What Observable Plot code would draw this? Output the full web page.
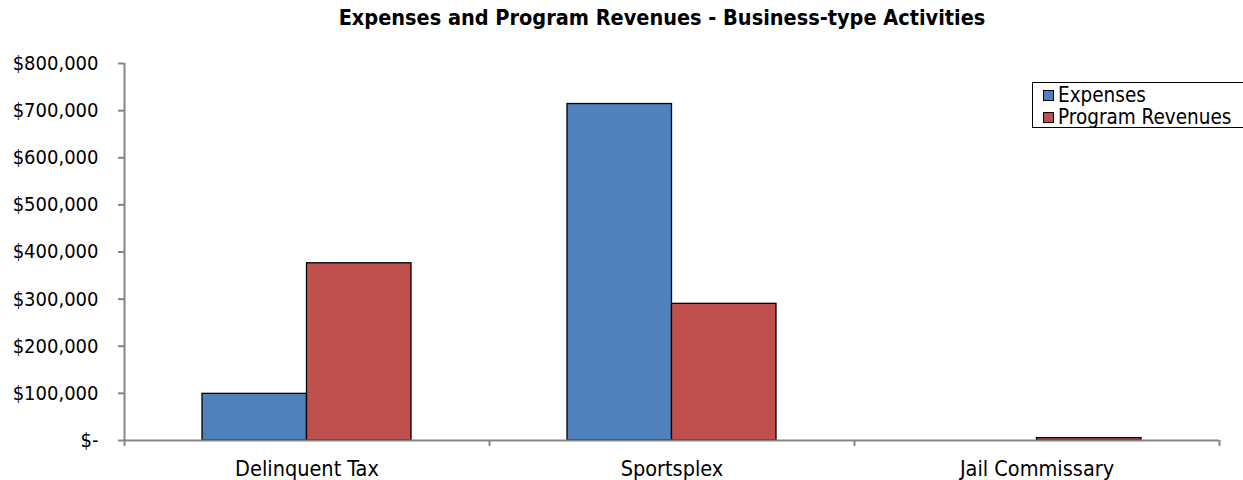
<!DOCTYPE html>
<html>
<head>
<meta charset="utf-8">
<script src="https://cdn.jsdelivr.net/npm/d3@7"></script>
<script src="https://cdn.jsdelivr.net/npm/@observablehq/plot@0.6"></script>
<style>
  html, body { margin: 0; padding: 0; background: #fff; }
  #wrap { position: relative; width: 1243px; height: 480px; overflow: hidden; font-family: "DejaVu Sans Condensed", "DejaVu Sans", sans-serif; }
  #title { position: absolute; top: 0; left: 662px; transform: translateX(-50%); white-space: nowrap; font-size: 21.5px; font-weight: bold; line-height: 36px; color: #000; }
  #chart { position: absolute; top: 36px; left: 0; }
  #legend { position: absolute; left: 1032px; top: 82px; width: 240px; height: 46px; border: 1.5px solid #000; background: #fff; box-sizing: border-box; padding: 1px 0 0 10px; font-size: 20.5px; }
  .item { display: flex; align-items: center; height: 22px; line-height: 22px; white-space: nowrap; }
  .sw { width: 11px; height: 11px; border: 1.3px solid #000; margin-right: 4px; box-sizing: border-box; }
</style>
</head>
<body>
<div id="wrap">
  <div id="title"></div>
  <div id="chart"></div>
  <div id="legend"></div>
</div>
<script>
const title = "Expenses and Program Revenues - Business-type Activities";
const categories = ["Delinquent Tax", "Sportsplex", "Jail Commissary"];
const series = ["Expenses", "Program Revenues"];
const expenses = [99000, 714000, 0];
const programRevenues = [376000, 290000, 5000];
const colors = ["#4F81BD", "#C0504D"];
const yTicks = [0, 100000, 200000, 300000, 400000, 500000, 600000, 700000, 800000];

const values = [expenses, programRevenues];
const data = [];
categories.forEach((c, i) => {
  series.forEach((s, j) => {
    data.push({category: c, index: i, series: s, s: j, value: values[j][i]});
  });
});

const barW = 0.2863; // fraction of category band per bar
const axisColor = "#868686";

const chart = Plot.plot({
  width: 1243,
  height: 444,
  marginTop: 27,
  marginBottom: 40,
  marginLeft: 124,
  marginRight: 24,
  style: {fontFamily: "DejaVu Sans Condensed, DejaVu Sans, sans-serif", fontSize: "20px", color: "#000", background: "#fff"},
  x: {type: "linear", domain: [-0.5, categories.length - 0.5], axis: null},
  y: {domain: [0, 800000], axis: null},
  color: {domain: series, range: colors},
  marks: [
    Plot.rectY(data, {
      filter: d => d.value > 0,
      x1: d => d.index + (d.s === 0 ? -barW : 0),
      x2: d => d.index + (d.s === 0 ? 0 : barW),
      y1: 0,
      y2: "value",
      fill: "series",
      stroke: "#000",
      strokeWidth: 1.3
    }),
    Plot.ruleY([0], {stroke: axisColor, strokeWidth: 2}),
    Plot.ruleX([-0.5], {y1: 0, y2: 800000, stroke: axisColor, strokeWidth: 2}),
    Plot.axisY(yTicks, {
      tickFormat: d => d === 0 ? "$-" : "$" + d3.format(",")(d),
      tickSize: 6,
      tickPadding: 20,
      stroke: axisColor,
      strokeWidth: 2,
      fill: "#000",
      label: null
    }),
    Plot.axisX(d3.range(categories.length + 1).map(i => i - 0.5), {
      tickFormat: () => "",
      tickSize: 6,
      stroke: axisColor,
      strokeWidth: 2,
      label: null
    }),
    Plot.axisX(d3.range(categories.length), {
      tickFormat: i => categories[i],
      tickSize: 0,
      tickPadding: 20,
      fontSize: 21.5,
      fill: "#000",
      label: null
    })
  ]
});
document.getElementById("chart").appendChild(chart);
document.getElementById("title").textContent = title;

const legend = document.getElementById("legend");
series.forEach((s, j) => {
  const item = document.createElement("div");
  item.className = "item";
  const sw = document.createElement("span");
  sw.className = "sw";
  sw.style.background = colors[j];
  const t = document.createElement("span");
  t.textContent = s;
  item.appendChild(sw);
  item.appendChild(t);
  legend.appendChild(item);
});
</script>
</body>
</html>
